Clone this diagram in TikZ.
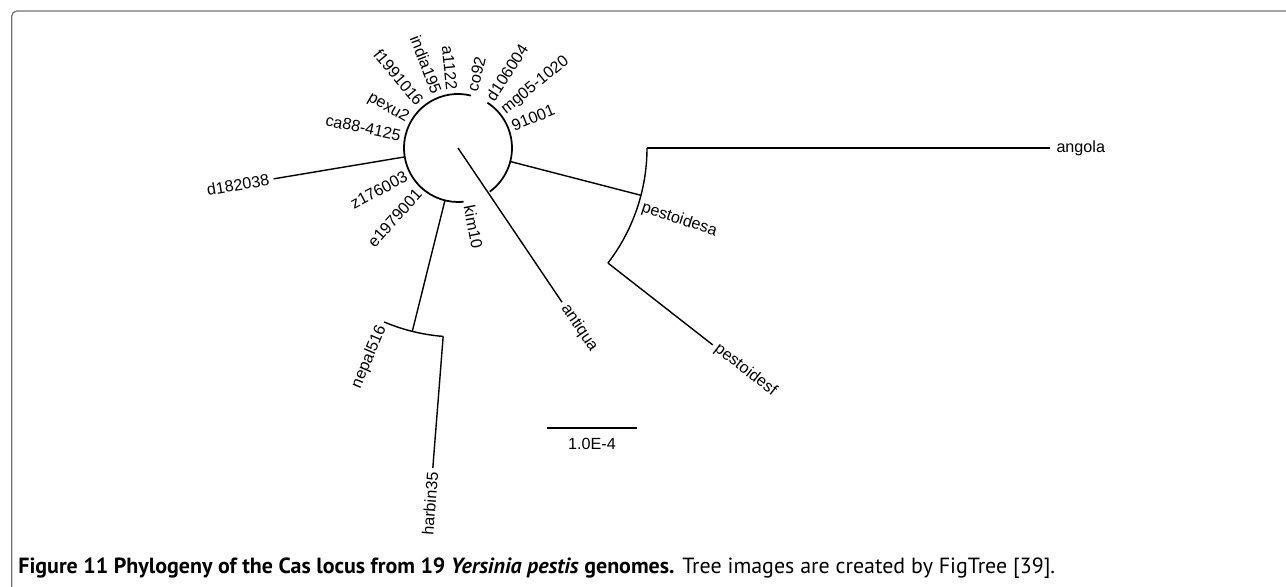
\documentclass[tikz,border=0pt]{standalone}
\usepackage{fontspec}
\setmainfont{Liberation Sans}
\newfontfamily\capfont{PT Sans}
\usetikzlibrary{calc}

\newcommand\treefont{\fontsize{9.2}{11}\selectfont}
\tikzset{
  branch/.style={line width=0.8pt},
  ring/.style={line width=1pt},
  leafR/.style={anchor=west, inner sep=2.4pt, font=\treefont},
  leafL/.style={anchor=east, inner sep=2.4pt, font=\treefont},
  frame/.style={draw=black!55, line width=0.7pt, rounded corners=3pt}
}

\begin{document}
\begin{tikzpicture}[x=0.02cm, y=0.02cm]
        \useasboundingbox (0,0) rectangle (1286,587);

        % Ramme
        \draw[frame] (11.7,0) |- (1290,576);

        % Noder
        \coordinate (root) at (458,439);
        \coordinate (cL) at ($(root)+(76:54)$);
        \coordinate (cR) at ($(root)+(-54:54)$);
        \coordinate (iD) at ($(root)+(189.5:54)$);
        \coordinate (iN) at ($(root)+(-104:54)$);
        \coordinate (iP) at ($(root)+(-14.5:54)$);
        \coordinate (oD) at ($(root)+(189.5:187)$);
        \coordinate (oN) at ($(root)+(-104:189)$);
        \coordinate (nep) at ($(root)+(-113:189)$);
        \coordinate (har) at ($(root)+(-94.5:189)$);
        \coordinate (har2) at ($(root)+(-94.5:321)$);
        \coordinate (oP) at ($(root)+(-14.5:189)$);
        \coordinate (ang) at ($(root)+(0:189)$);
        \coordinate (ang2) at (1050,439);
        \coordinate (pf) at ($(root)+(-37.5:189)$);
        \coordinate (pf2) at ($(root)+(-37.7:322)$);
        \coordinate (ant) at ($(root)+(-56:186)$);
        \coordinate (s1) at (547,159);
        \coordinate (s2) at (637,159);

        \node[leafR, rotate=76] (co92) at ($(root)+(76:54)$) {co92};
        \node[leafL, rotate=-84] (a1122) at ($(root)+(96:54)$) {a1122};
        \node[leafL, rotate=-69] (india195) at ($(root)+(111:54)$) {india195};
        \node[leafL, rotate=-50] (f1991016) at ($(root)+(130:54)$) {f1991016};
        \node[leafL, rotate=-30] (pexu2) at ($(root)+(150:54)$) {pexu2};
        \node[leafL, rotate=-12] (ca88) at ($(root)+(168:54)$) {ca88-4125};
        \node[leafL, rotate=28] (z176003) at ($(root)+(208:54)$) {z176003};
        \node[leafL, rotate=48] (e1979001) at ($(root)+(228:54)$) {e1979001};
        \node[leafR, rotate=-79] (kim10) at ($(root)+(-79:54)$) {kim10};
        \node[leafR, rotate=57] (d106004) at ($(root)+(57:54)$) {d106004};
        \node[leafR, rotate=39] (mg05) at ($(root)+(39:54)$) {mg05-1020};
        \node[leafR, rotate=22] (n91001) at ($(root)+(22:54)$) {91001};
        \node[leafL, rotate=9.5] (d182038) at (oD) {d182038};
        \node[leafL, rotate=67] (nepal516) at (nep) {nepal516};
        \node[leafL, rotate=85.5] (harbin35) at (har2) {harbin35};
        \node[leafR, rotate=-56] (antiqua) at (ant) {antiqua};
        \node[leafR, inner sep=3.5pt] (angola) at (ang2) {angola};
        \node[leafR, rotate=-18] (pestoidesa) at ($(root)+(-18:189)$) {pestoidesa};
        \node[leafR, rotate=-37.7] (pestoidesf) at (pf2) {pestoidesf};

        % Kanter
        \draw[ring] (cL) arc[start angle=76, end angle=276, radius=54];
        \draw[ring] (cR) arc[start angle=-54, end angle=57, radius=54];
        \draw[branch] (iD) -- (oD);
        \draw[branch] (iN) -- (oN);
        \draw[branch] (nep) arc[start angle=-113, end angle=-94.5, radius=189];
        \draw[branch] (har) -- (har2);
        \draw[branch] (root) -- (ant);
        \draw[branch] (iP) -- (oP);
        \draw[branch] (ang) arc[start angle=0, end angle=-37.5, radius=189];
        \draw[branch] (ang) -- (ang2);
        \draw[branch] (pf) -- (pf2);

        % Skala
        \draw[branch] (s1) -- (s2) node[midway, below=4.5pt, inner sep=1pt, font=\treefont] (skala) {1.0E-4};

        % Tekst
        \node[anchor=base west, inner sep=0pt, font=\capfont\fontsize{12.5}{14}\selectfont] (caption) at (18,13)
          {\textbf{Figure 11 Phylogeny of the Cas locus from 19 \textit{Yersinia pestis} genomes.} Tree images are created by FigTree [39].};
    \end{tikzpicture}
\end{document}
